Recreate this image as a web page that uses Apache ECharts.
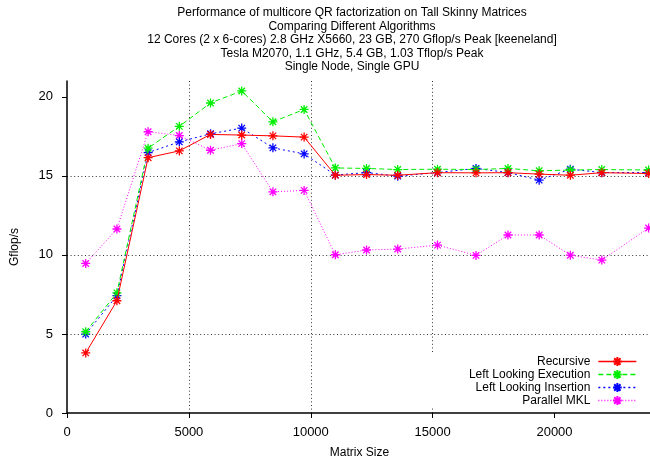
<!DOCTYPE html>
<html>
<head>
<meta charset="utf-8">
<script src="https://cdn.jsdelivr.net/npm/echarts@6/dist/echarts.min.js"></script>
<style>html,body{margin:0;padding:0;background:#fff;}#c{width:650px;height:461px;}</style>
</head>
<body>
<div id="c"></div>
<script>
const titleLines = [
  "Performance of multicore QR factorization on Tall Skinny Matrices",
  "Comparing Different Algorithms",
  "12 Cores (2 x 6-cores) 2.8 GHz X5660, 23 GB, 270 Gflop/s Peak [keeneland]",
  "Tesla M2070, 1.1 GHz, 5.4 GB, 1.03 Tflop/s Peak",
  "Single Node, Single GPU"
];
const matrixSize = [768, 2048, 3328, 4608, 5888, 7168, 8448, 9728, 11008, 12288, 13568, 15200, 16780, 18090, 19370, 20650, 21940, 23860];
const recursive = [3.8, 7.1, 16.15, 16.58, 17.62, 17.58, 17.53, 17.45, 15.04, 15.08, 15.04, 15.2, 15.19, 15.2, 15.11, 15.04, 15.2, 15.15];
const leftExec = [5.14, 7.6, 16.75, 18.13, 19.61, 20.37, 18.42, 19.2, 15.5, 15.47, 15.4, 15.42, 15.4, 15.47, 15.32, 15.37, 15.4, 15.37];
const leftIns = [4.99, 7.42, 16.47, 17.15, 17.66, 18.02, 16.77, 16.39, 15.05, 15.21, 14.98, 15.21, 15.47, 15.21, 14.73, 15.42, 15.21, 15.21];
const parallelMKL = [9.46, 11.64, 17.79, 17.55, 16.62, 17.04, 13.99, 14.08, 10.01, 10.31, 10.37, 10.62, 9.97, 11.26, 11.26, 9.98, 9.67, 11.7];
const seriesNames = ["Recursive", "Left Looking Execution", "Left Looking Insertion", "Parallel MKL"];
const xTicks = [0, 5000, 10000, 15000, 20000];
const yTicks = [0, 5, 10, 15, 20];

const colors = ["#ff0000", "#00ee00", "#0000ff", "#ff00ff"];
const dashes = ["solid", [5, 3], [2, 3], [1, 2]];
const values = [recursive, leftExec, leftIns, parallelMKL];
const star = "path://M0,-1L0,1M-1,0L1,0M-0.72,-0.72L0.72,0.72M-0.72,0.72L0.72,-0.72";
const font = "Liberation Sans, Arial, Helvetica, sans-serif";

const series = seriesNames.map((n, i) => ({
  name: n,
  type: "line",
  data: matrixSize.map((x, j) => [x, values[i][j]]),
  symbol: star,
  symbolSize: 9,
  showAllSymbol: true,
  z: 2 + (i === 0 ? 3 : 3 - i),
  lineStyle: { color: colors[i], width: 1, type: dashes[i] },
  itemStyle: { color: "rgba(0,0,0,0)", borderColor: colors[i], borderWidth: 1.3 },
  animation: false
}));

const legendCenters = [361, 374, 387, 400];
const legends = seriesNames.map((n, i) => ({
  data: [n],
  orient: "vertical",
  align: "right",
  right: 13,
  top: legendCenters[i] - 5.5,
  padding: 0,
  itemWidth: 38,
  itemHeight: 11,
  lineStyle: { width: 1.3 },
  textStyle: { fontSize: 12, fontFamily: font, color: "#000", padding: [0, 3, 0, 0] },
  selectedMode: false,
  z: 10
}));

const chart = echarts.init(document.getElementById("c"), null, { renderer: "canvas" });
chart.setOption({
  animation: false,
  backgroundColor: "#fff",
  title: {
    text: titleLines.join("\n"),
    left: 347,
    top: 1,
    textAlign: "center",
    textStyle: { fontSize: 12, fontWeight: "normal", fontFamily: font, color: "#000", lineHeight: 13.5 }
  },
  graphic: [{
    type: "rect",
    shape: { x: 425, y: 353, width: 230, height: 54 },
    style: { fill: "#fff" },
    z: 1
  }],
  legend: legends,
  grid: { left: 67, top: 81, width: 585, height: 332, containLabel: false, outerBoundsMode: "none" },
  xAxis: {
    type: "value",
    min: 0, max: 24000, interval: 5000,
    name: "Matrix Size",
    nameLocation: "middle",
    nameGap: 34,
    nameTextStyle: { fontSize: 12, fontFamily: font, color: "#000" },
    axisLine: { show: true, lineStyle: { color: "#000", width: 1.5 } },
    axisTick: { show: true, inside: false, length: 5, lineStyle: { color: "#000" }, customValues: xTicks },
    axisLabel: { fontSize: 13, fontFamily: font, color: "#000", margin: 13, customValues: xTicks, formatter: v => String(v) },
    splitLine: { show: true, showMinLine: false, showMaxLine: false, lineStyle: { color: "#333", width: 1, type: [1, 2.6] } }
  },
  yAxis: {
    type: "value",
    min: 0, max: 21, interval: 5,
    name: "Gflop/s",
    nameLocation: "middle",
    nameGap: 46,
    nameTextStyle: { fontSize: 12, fontFamily: font, color: "#000" },
    axisLine: { show: true, lineStyle: { color: "#000", width: 1.5 } },
    axisTick: { show: true, inside: false, length: 5, lineStyle: { color: "#000" }, customValues: yTicks },
    axisLabel: { fontSize: 13, fontFamily: font, color: "#000", margin: 14, customValues: yTicks, formatter: v => String(v) },
    splitLine: { show: true, showMinLine: false, showMaxLine: false, lineStyle: { color: "#333", width: 1, type: [1, 2.6] } }
  },
  series: series
});
</script>
</body>
</html>
